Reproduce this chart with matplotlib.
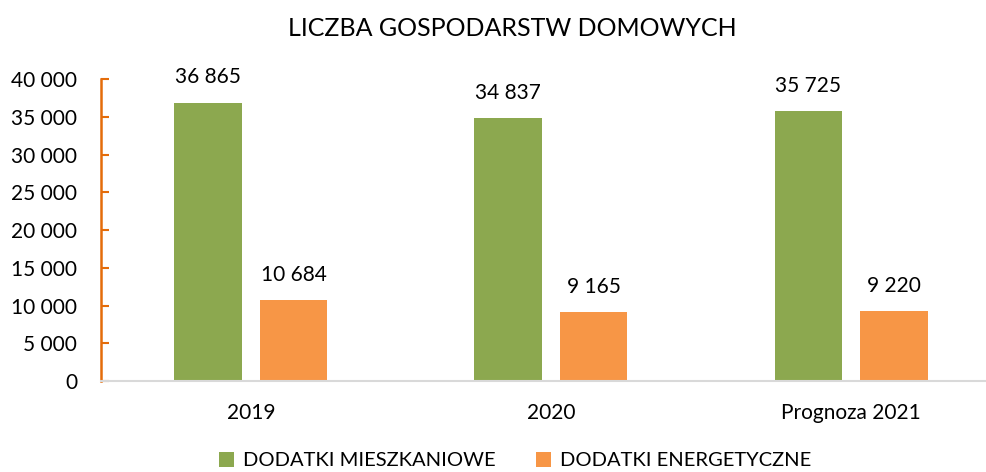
import matplotlib.pyplot as plt
import numpy as np

plt.rcParams['font.family'] = ['Lato', 'DejaVu Sans']

categories = ['2019', '2020', 'Prognoza 2021']
mieszkaniowe = [36865, 34837, 35725]
energetyczne = [10684, 9165, 9220]
series_names = ['DODATKI MIESZKANIOWE', 'DODATKI ENERGETYCZNE']
yticks = [0, 5000, 10000, 15000, 20000, 25000, 30000, 35000, 40000]

GREEN = '#8CA84F'
ORANGE = '#F79646'
AXIS_ORANGE = '#E46C0A'


def fmt(v):
    return f"{v:,}".replace(',', ' ')


fig = plt.figure(figsize=(9.87, 4.72), dpi=100)
ax = fig.add_axes([0.1023, 0.1928, 0.9119, 0.6398])

x = np.arange(len(categories))
w = 0.225
off = 0.1425
b1 = ax.bar(x - off, mieszkaniowe, w, color=GREEN, label=series_names[0])
b2 = ax.bar(x + off, energetyczne, w, color=ORANGE, label=series_names[1])

for bars, vals in ((b1, mieszkaniowe), (b2, energetyczne)):
    for bar, v in zip(bars, vals):
        ax.annotate(fmt(v), (bar.get_x() + bar.get_width() / 2, v),
                    xytext=(0, 11), textcoords='offset points',
                    ha='center', va='bottom', fontsize=15, color='black')

ax.set_xlim(-0.5, 2.5)
ax.set_ylim(0, 40000)
ax.set_yticks(yticks)
ax.set_yticklabels([fmt(t) for t in yticks], fontsize=15)
ax.set_xticks(x)
ax.set_xticklabels(categories, fontsize=15)
ax.tick_params(axis='x', length=0, pad=16)
ax.tick_params(axis='y', direction='in', length=6, width=1.5,
               color=AXIS_ORANGE, pad=17)

for s in ('top', 'right'):
    ax.spines[s].set_visible(False)
ax.spines['left'].set_color(AXIS_ORANGE)
ax.spines['left'].set_linewidth(1.8)
ax.spines['bottom'].set_color('#D9D9D9')
ax.spines['bottom'].set_linewidth(1.5)

fig.suptitle('LICZBA GOSPODARSTW DOMOWYCH', fontsize=18, y=0.965, x=0.519)

fig.legend(loc='center', bbox_to_anchor=(0.522, 0.024), ncol=2, frameon=False,
           fontsize=14.5, handlelength=0.75, handleheight=0.75, columnspacing=2.0,
           handletextpad=0.45)

fig.savefig('out.png', dpi=100)
